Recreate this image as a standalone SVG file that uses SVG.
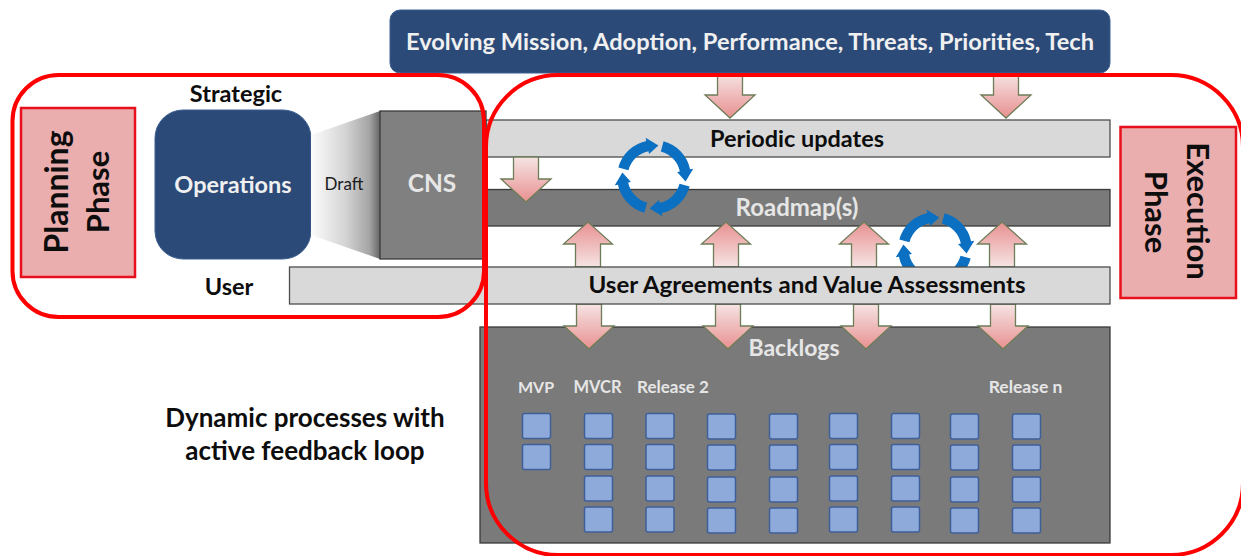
<svg xmlns="http://www.w3.org/2000/svg" xmlns:xlink="http://www.w3.org/1999/xlink" width="1241" height="556" viewBox="0 0 1241 556">
<style>
text{font-family:"Lato","Carlito","Open Sans",sans-serif;font-weight:700;text-anchor:middle}
.blk{fill:#0d0d0d}
.lt{fill:#e6e6e6}
.w{fill:#f0f0f0}
.bar{fill:#d9d9d9;stroke:#4a4f4a;stroke-width:1.3}
.dark{fill:#7a7a7a;stroke:#3a3a3a;stroke-width:1.3}
.phase{fill:#ebaeae;stroke:#e8101c;stroke-width:2.5}
.frame{fill:none;stroke:#f00;stroke-width:4}
.navy{fill:#2b4a78;stroke:#3c5f92;stroke-width:1}
.sq{fill:#8eaadb;stroke:#3f5f98;stroke-width:1.5}
.ad{fill:url(#gd);stroke:#6d7d58;stroke-width:1.3}
.au{fill:url(#gu);stroke:#6d7d58;stroke-width:1.3}
.cy{fill:#0b6fc2}
</style>
<defs>
<linearGradient id="gd" x1="0" y1="0" x2="0" y2="1"><stop offset="0" stop-color="#f6e4e4"/><stop offset="1" stop-color="#e89090"/></linearGradient>
<linearGradient id="gu" x1="0" y1="1" x2="0" y2="0"><stop offset="0" stop-color="#f6e4e4"/><stop offset="1" stop-color="#e89090"/></linearGradient>
<linearGradient id="fade" x1="0" y1="0" x2="1" y2="0"><stop offset="0" stop-color="#fcfcfc"/><stop offset="0.5" stop-color="#d4d4d4"/><stop offset="0.85" stop-color="#a4a4a4"/><stop offset="1" stop-color="#666"/></linearGradient>
<path id="dn" d="M-12.5 0H12.5V22H25L0 45L-25 22H-12.5Z"/>
<path id="up" d="M-12.5 45H12.5V22H24.500L0 0L-24.500 22H-12.500Z"/>
<path id="seg" d="M-32.400 -8.700A33.500 33.500 0 0 1 -7 -32.800L-7.600 -35.700L4 -28.700L-4.500 -21L-5 -23.500A24 24 0 0 0 -23.200 -6.200Z"/>
<g id="cycle"><use xlink:href="#seg" href="#seg"/><use xlink:href="#seg" href="#seg" transform="rotate(90)"/><use xlink:href="#seg" href="#seg" transform="rotate(180)"/><use xlink:href="#seg" href="#seg" transform="rotate(270)"/></g>
<rect id="s" width="28" height="25" rx="2"/>
</defs>
<rect width="1241" height="556" fill="#fff"/>

<g id="backlogs">
<rect class="dark" x="480" y="327" width="630" height="216"/>
<text class="lt" x="794" y="356" font-size="23">Backlogs</text>
<text class="lt" x="536" y="393" font-size="16">MVP</text>
<text class="lt" x="597.500" y="393" font-size="16.500">MVCR</text>
<text class="lt" x="673" y="393" font-size="17">Release 2</text>
<text class="lt" x="1025.500" y="393" font-size="17.500">Release n</text>
<g class="sq">
<use xlink:href="#s" href="#s" x="522.500" y="413.500"/><use xlink:href="#s" href="#s" x="522.500" y="444.500"/>
<use xlink:href="#s" href="#s" x="584.500" y="413.500"/><use xlink:href="#s" href="#s" x="584.500" y="444.500"/><use xlink:href="#s" href="#s" x="584.500" y="476"/><use xlink:href="#s" href="#s" x="584.500" y="507"/>
<use xlink:href="#s" href="#s" x="646" y="413.500"/><use xlink:href="#s" href="#s" x="646" y="444.500"/><use xlink:href="#s" href="#s" x="646" y="476"/><use xlink:href="#s" href="#s" x="646" y="507"/>
<use xlink:href="#s" href="#s" x="707.500" y="414"/><use xlink:href="#s" href="#s" x="707.500" y="445"/><use xlink:href="#s" href="#s" x="707.500" y="477"/><use xlink:href="#s" href="#s" x="707.500" y="508"/>
<use xlink:href="#s" href="#s" x="769.500" y="414"/><use xlink:href="#s" href="#s" x="769.500" y="445"/><use xlink:href="#s" href="#s" x="769.500" y="477"/><use xlink:href="#s" href="#s" x="769.500" y="508"/>
<use xlink:href="#s" href="#s" x="829.500" y="413.500"/><use xlink:href="#s" href="#s" x="829.500" y="444.500"/><use xlink:href="#s" href="#s" x="829.500" y="476"/><use xlink:href="#s" href="#s" x="829.500" y="507"/>
<use xlink:href="#s" href="#s" x="891.500" y="413.500"/><use xlink:href="#s" href="#s" x="891.500" y="444.500"/><use xlink:href="#s" href="#s" x="891.500" y="476"/><use xlink:href="#s" href="#s" x="891.500" y="507"/>
<use xlink:href="#s" href="#s" x="950.500" y="414"/><use xlink:href="#s" href="#s" x="950.500" y="445"/><use xlink:href="#s" href="#s" x="950.500" y="477"/><use xlink:href="#s" href="#s" x="950.500" y="508"/>
<use xlink:href="#s" href="#s" x="1012.500" y="414"/><use xlink:href="#s" href="#s" x="1012.500" y="445"/><use xlink:href="#s" href="#s" x="1012.500" y="477"/><use xlink:href="#s" href="#s" x="1012.500" y="508"/>
</g>
</g>

<g id="periodic-updates">
<rect class="bar" x="486" y="120" width="624" height="37"/>
<text class="blk" x="797" y="147" font-size="23" textLength="174" lengthAdjust="spacingAndGlyphs">Periodic updates</text>
</g>
<g id="roadmaps">
<rect class="dark" x="486" y="189.500" width="624" height="36.500"/>
<text class="lt" x="797" y="216" font-size="24">Roadmap(s)</text>
</g>
<g id="cycle-lower"><use class="cy" xlink:href="#cycle" href="#cycle" transform="translate(935 249) scale(1.1)"/></g>

<g id="connectors">
<use class="ad" xlink:href="#dn" href="#dn" transform="translate(730 73)"/>
<use class="ad" xlink:href="#dn" href="#dn" transform="translate(1006 73)"/>
<use class="ad" xlink:href="#dn" href="#dn" transform="translate(526 157)"/>
<use class="au" xlink:href="#up" href="#up" transform="translate(588 222)"/>
<use class="au" xlink:href="#up" href="#up" transform="translate(726 222)"/>
<use class="au" xlink:href="#up" href="#up" transform="translate(864 222)"/>
<use class="au" xlink:href="#up" href="#up" transform="translate(1002 222)"/>
<use class="ad" xlink:href="#dn" href="#dn" transform="translate(589 304)"/>
<use class="ad" xlink:href="#dn" href="#dn" transform="translate(728 304)"/>
<use class="ad" xlink:href="#dn" href="#dn" transform="translate(866 304)"/>
<use class="ad" xlink:href="#dn" href="#dn" transform="translate(1003 304)"/>
</g>

<g id="user-agreements">
<rect class="bar" x="289.500" y="267" width="820.500" height="37"/>
<text class="blk" x="807" y="293" font-size="23" textLength="437" lengthAdjust="spacingAndGlyphs">User Agreements and Value Assessments</text>
</g>
<text class="blk" x="229" y="295" font-size="23.500">User</text>

<g id="cycle-upper"><use class="cy" xlink:href="#cycle" href="#cycle" transform="translate(654 177) scale(1.1)"/></g>

<g id="mission">
<rect class="navy" x="390" y="10" width="720" height="63" rx="10"/>
<text class="w" x="750" y="50" font-size="23" textLength="688" lengthAdjust="spacingAndGlyphs">Evolving Mission, Adoption, Performance, Threats, Priorities, Tech</text>
</g>

<g id="operations">
<rect class="navy" x="155" y="110" width="156" height="149" rx="28"/>
<text class="w" x="233" y="193" font-size="23.500">Operations</text>
</g>
<text class="blk" x="236" y="102" font-size="23.500">Strategic</text>
<g id="draft">
<path d="M311 135L380 111V259L311 235Z" fill="url(#fade)"/>
<text x="344" y="190" font-size="17" fill="#1a1a1a" style="font-weight:400">Draft</text>
</g>
<g id="cns">
<rect class="dark" x="380" y="111" width="106" height="148" style="fill:#808080"/>
<text class="lt" x="432" y="192" font-size="24.500">CNS</text>
</g>

<g id="planning-frame"><rect class="frame" x="12.500" y="75" width="471.500" height="242" rx="46"/></g>
<g id="execution-frame"><rect class="frame" x="486" y="75" width="757" height="480" rx="72"/></g>

<g id="planning-phase">
<rect class="phase" x="21" y="108" width="114" height="169"/>
<text class="blk" transform="translate(68 192) rotate(-90)" font-size="32">Planning</text>
<text class="blk" transform="translate(109 192) rotate(-90)" font-size="31">Phase</text>
</g>
<g id="execution-phase">
<rect class="phase" x="1120.500" y="127" width="115.500" height="171"/>
<text class="blk" transform="translate(1187 211) rotate(90)" font-size="31">Execution</text>
<text class="blk" transform="translate(1145 212) rotate(90)" font-size="31">Phase</text>
</g>

<g id="caption" font-size="26">
<text class="blk" x="305" y="427">Dynamic processes with</text>
<text class="blk" x="305" y="460">active feedback loop</text>
</g>
</svg>
